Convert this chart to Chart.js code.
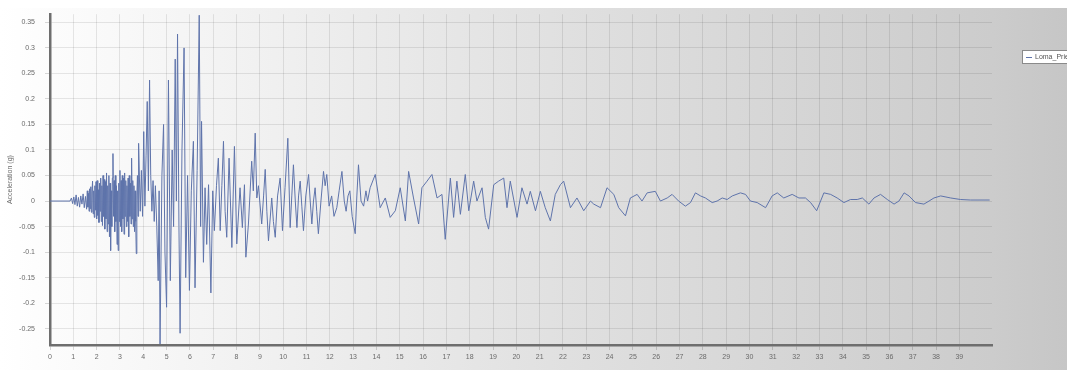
<!DOCTYPE html>
<html lang="en">
<head>
    <meta charset="UTF-8">
    <title>Loma Prieta accelerogram</title>
    <script src="https://cdn.jsdelivr.net/npm/chart.js"></script>
    <style>
        html, body { margin: 0; padding: 0; background: #ffffff; }
        canvas { display: block; }
    </style>
</head>
<body>
<canvas id="accelChart" width="1067" height="370"></canvas>

<script>
    // Record: time (s) and acceleration (g), line by line in step
    const seriesName = 'Loma_Prieta';
    const timeSec = [
        0, 0.86, 0.92, 0.97, 1.02, 1.07, 1.12, 1.17, 1.22, 1.27,
        1.32, 1.37, 1.42, 1.47, 1.52, 1.57,
        1.600, 1.625, 1.650, 1.675, 1.700, 1.725, 1.750, 1.775, 1.800, 1.825,
        1.850, 1.875, 1.900, 1.925, 1.950, 1.975, 2.000, 2.025, 2.050, 2.075,
        2.100, 2.125, 2.150, 2.175, 2.200, 2.225, 2.250, 2.275, 2.300, 2.325,
        2.350, 2.375, 2.400, 2.425, 2.450, 2.475, 2.500, 2.525, 2.550, 2.575,
        2.600, 2.625, 2.650, 2.675, 2.700, 2.725, 2.750, 2.775, 2.800, 2.825,
        2.850, 2.875, 2.900, 2.925, 2.950, 2.975, 3.000, 3.025, 3.050, 3.075,
        3.100, 3.125, 3.150, 3.175, 3.200, 3.225, 3.250, 3.275, 3.300, 3.325,
        3.350, 3.375, 3.400, 3.425, 3.450, 3.475, 3.500, 3.525, 3.550, 3.575,
        3.600, 3.625, 3.650, 3.675, 3.700, 3.725, 3.750, 3.775, 3.800,
        3.87, 3.92, 3.97, 4.02, 4.07, 4.12, 4.17, 4.22, 4.27,
        4.32, 4.37, 4.42, 4.47, 4.52, 4.58, 4.64, 4.68, 4.72, 4.80,
        4.87, 4.93, 5.00, 5.08, 5.16, 5.24, 5.30, 5.37, 5.42, 5.47,
        5.53, 5.58, 5.66, 5.75, 5.82, 5.90, 5.98, 6.06, 6.15, 6.22,
        6.31, 6.40, 6.46, 6.50,
        6.58, 6.65, 6.72, 6.80, 6.90, 6.98, 7.05, 7.14, 7.22, 7.30,
        7.37, 7.44, 7.51, 7.58, 7.68, 7.80, 7.91, 8.01, 8.15, 8.25,
        8.34, 8.40, 8.51, 8.65, 8.72, 8.80, 8.87, 8.94, 9.08, 9.16,
        9.23, 9.30, 9.37, 9.51, 9.58, 9.66, 9.76, 9.87, 9.97, 10.08,
        10.20, 10.30, 10.37, 10.44, 10.52, 10.59, 10.66, 10.73, 10.80, 10.87,
        10.97, 11.09, 11.16, 11.23, 11.30, 11.37, 11.44, 11.51, 11.62, 11.73,
        11.80, 11.87, 11.97, 12.08, 12.18, 12.30, 12.40, 12.52, 12.62, 12.70,
        12.78, 12.86, 12.96, 13.09, 13.16, 13.23, 13.34, 13.45, 13.55, 13.62,
        13.73, 13.95, 14.16, 14.38, 14.59, 14.81, 15.02, 15.24, 15.38, 15.59,
        15.81, 15.95, 16.17, 16.38, 16.60, 16.81, 16.95, 17.17, 17.31, 17.45,
        17.60, 17.81, 17.96, 18.17, 18.31, 18.53, 18.67, 18.81, 19.03, 19.24,
        19.46, 19.60, 19.74, 20.03, 20.24, 20.46, 20.60, 20.82, 21.03, 21.24,
        21.46, 21.67, 21.89, 22.03, 22.32, 22.60, 22.89, 23.18, 23.32, 23.61,
        23.89, 24.18, 24.39, 24.68, 24.89, 25.18, 25.39, 25.61, 25.96, 26.18,
        26.47, 26.68, 26.96, 27.25, 27.47, 27.68, 27.90, 28.11, 28.40, 28.61,
        28.83, 29.04, 29.26, 29.61, 29.83, 30.04, 30.33, 30.69, 30.97, 31.19,
        31.47, 31.83, 32.12, 32.40, 32.62, 32.88, 33.19, 33.48, 33.76, 34.05,
        34.33, 34.62, 34.84, 35.12, 35.34, 35.62, 35.91, 36.20, 36.41, 36.63,
        36.84, 37.12, 37.48, 37.70, 37.91, 38.20, 38.63, 39.05, 39.48, 40.30
    ];
    const accelG = [
        0, 0, 0.006, -0.005, 0.008, -0.007, 0.012, -0.010, 0.007, -0.012,
        0.010, -0.006, 0.014, -0.013, 0.009, -0.016,
        0.020, -0.012, 0.015, -0.020, 0.024, -0.015, 0.028, -0.022, 0.018, 0.039,
        -0.025, 0.020, -0.032, 0.030, -0.018, 0.038, -0.035, 0.040, -0.028, 0.022,
        -0.042, 0.035, -0.020, 0.045, -0.040, 0.030, -0.048, 0.050, -0.030, 0.042,
        -0.055, 0.038, -0.035, 0.055, -0.060, 0.030, -0.045, 0.050, -0.070, 0.035,
        -0.097, 0.020, -0.050, 0.045, 0.093, -0.030, 0.040, -0.060, 0.050, -0.040,
        0.030, -0.085, 0.020, -0.097, 0.035, -0.040, 0.060, -0.050, 0.040, -0.060,
        0.050, -0.035, 0.045, -0.065, 0.055, -0.030, 0.040, -0.050, 0.030, -0.040,
        0.045, -0.070, 0.050, -0.030, 0.035, -0.045, 0.084, -0.035, 0.040, -0.050,
        0.030, -0.060, 0.020, -0.040, -0.103, 0.010, 0.050, -0.030, 0.113,
        -0.020, 0.060, -0.030, 0.136, -0.010, 0.090, 0.195, 0.020, 0.237,
        0.050, -0.020, 0.040, -0.040, 0.030, -0.050, -0.156, 0.020, -0.280, 0.050,
        0.150, -0.100, -0.208, 0.237, -0.156, 0.100, -0.050, 0.278, 0.000, 0.327,
        -0.050, -0.259, 0.100, 0.300, -0.150, 0.050, -0.175, 0.020, 0.117, -0.170,
        0.060, 0.364, -0.050, 0.156,
        -0.120, 0.026, -0.085, 0.032, -0.180, 0.020, -0.058, 0.030, 0.084, -0.058,
        0.030, 0.117, -0.020, -0.071, 0.084, -0.091, 0.107, -0.084, 0.026, -0.052,
        0.032, -0.110, -0.045, 0.078, 0.020, 0.133, 0.006, 0.030, -0.045, 0.010,
        0.062, -0.020, -0.078, 0.006, -0.040, -0.071, 0.010, 0.045, -0.058, 0.026,
        0.123, -0.052, 0.010, 0.071, 0.000, -0.052, 0.010, 0.039, -0.010, -0.058,
        0.010, 0.052, 0.000, -0.045, 0.000, 0.026, -0.020, -0.064, 0.000, 0.058,
        0.030, 0.052, -0.010, 0.010, -0.030, -0.013, 0.020, 0.058, 0.000, -0.020,
        0.010, 0.020, -0.030, -0.064, 0.010, 0.071, 0.000, -0.010, 0.020, 0.000,
        0.026, 0.052, -0.013, 0.006, -0.032, -0.019, 0.026, -0.039, 0.058, 0.006,
        -0.045, 0.026, 0.039, 0.052, 0.006, 0.013, -0.075, 0.045, -0.032, 0.039,
        -0.026, 0.052, -0.019, 0.039, 0.000, 0.026, -0.032, -0.055, 0.032, 0.039,
        0.045, -0.013, 0.039, -0.032, 0.026, -0.006, 0.019, -0.019, 0.019, -0.013,
        -0.039, 0.013, 0.032, 0.039, -0.013, 0.006, -0.019, 0.000, -0.006, -0.013,
        0.026, 0.013, -0.013, -0.029, 0.006, 0.013, 0.000, 0.016, 0.019, 0.000,
        0.006, 0.013, 0.000, -0.010, -0.003, 0.016, 0.010, 0.006, -0.003, 0.000,
        0.006, 0.003, 0.010, 0.016, 0.013, 0.000, -0.003, -0.013, 0.010, 0.016,
        0.006, 0.013, 0.006, 0.006, -0.003, -0.019, 0.016, 0.013, 0.006, -0.003,
        0.003, 0.003, 0.006, -0.006, 0.006, 0.013, 0.003, -0.006, 0.000, 0.016,
        0.010, -0.003, -0.006, 0.000, 0.006, 0.010, 0.006, 0.003, 0.002, 0.002
    ];

    // Tick values shown on the axes
    const xTicks = [0, 1, 2, 3, 4, 5, 6, 7, 8, 9, 10, 11, 12, 13, 14, 15, 16, 17, 18, 19,
        20, 21, 22, 23, 24, 25, 26, 27, 28, 29, 30, 31, 32, 33, 34, 35, 36, 37, 38, 39];
    const yTicks = [-0.25, -0.2, -0.15, -0.1, -0.05, 0, 0.05, 0.1, 0.15, 0.2, 0.25, 0.3, 0.35];

    if (timeSec.length !== accelG.length) {
        console.error('length mismatch', timeSec.length, accelG.length);
    }
    const points = timeSec.map((t, i) => ({ x: t, y: accelG[i] }));

    // grey horizontal gradient behind everything
    const backdrop = {
        id: 'backdrop',
        beforeDraw(chart) {
            const ctx = chart.ctx;
            ctx.save();
            ctx.fillStyle = '#ffffff';
            ctx.fillRect(0, 0, chart.width, chart.height);
            const g = ctx.createLinearGradient(0, 0, chart.width, 0);
            g.addColorStop(0, '#ffffff');
            g.addColorStop(0.05, '#fcfcfc');
            g.addColorStop(0.55, '#dfdfdf');
            g.addColorStop(0.93, '#cccccc');
            g.addColorStop(1, '#c6c6c6');
            ctx.fillStyle = g;
            ctx.fillRect(0, 8, chart.width, chart.height - 8);
            ctx.restore();
        }
    };

    // small legend box at the right edge, cut by the border like the original
    const edgeLegend = {
        id: 'edgeLegend',
        afterDraw(chart) {
            const ctx = chart.ctx;
            const ds = chart.data.datasets[0];
            ctx.save();
            ctx.fillStyle = '#ffffff';
            ctx.strokeStyle = '#8a8a8a';
            ctx.lineWidth = 1;
            ctx.fillRect(1022.5, 50.5, 70, 13);
            ctx.strokeRect(1022.5, 50.5, 70, 13);
            ctx.strokeStyle = ds.borderColor;
            ctx.beginPath();
            ctx.moveTo(1026, 57.5);
            ctx.lineTo(1032, 57.5);
            ctx.stroke();
            ctx.fillStyle = '#555555';
            ctx.font = '7px "Liberation Sans", Arial, sans-serif';
            ctx.textBaseline = 'middle';
            ctx.fillText(ds.label, 1035, 57.5);
            ctx.restore();
        }
    };

    new Chart(document.getElementById('accelChart'), {
        type: 'line',
        data: {
            datasets: [{
                label: seriesName,
                data: points,
                borderColor: '#5f74ab',
                borderWidth: 1,
                pointRadius: 0,
                tension: 0,
                fill: false
            }]
        },
        options: {
            responsive: false,
            animation: false,
            layout: { padding: { top: 12, right: 75, left: 0, bottom: 0 } },
            plugins: {
                legend: { display: false },
                tooltip: { enabled: false }
            },
            scales: {
                x: {
                    type: 'linear',
                    min: 0,
                    max: 40.4,
                    afterBuildTicks: axis => { axis.ticks = xTicks.map(v => ({ value: v })); },
                    afterFit: axis => { axis.height = 25; },
                    border: { color: '#6e6e6e', width: 2.5 },
                    grid: { color: 'rgba(0,0,0,0.09)', tickLength: 5, tickColor: 'rgba(0,0,0,0.15)' },
                    ticks: {
                        color: '#6a6a6a',
                        padding: 3,
                        maxRotation: 0,
                        autoSkip: false,
                        font: { family: '"Liberation Sans", Arial, sans-serif', size: 7 },
                        callback: v => String(v)
                    }
                },
                y: {
                    min: -0.282,
                    max: 0.366,
                    afterBuildTicks: axis => { axis.ticks = yTicks.map(v => ({ value: v })); },
                    afterFit: axis => { axis.width = 50; },
                    border: { color: '#6e6e6e', width: 2.5 },
                    grid: { color: 'rgba(0,0,0,0.09)', tickLength: 5, tickColor: 'rgba(0,0,0,0.15)' },
                    title: {
                        display: true,
                        text: 'Acceleration (g)',
                        color: '#6a6a6a',
                        padding: { top: 6, bottom: 0 },
                        font: { family: '"Liberation Sans", Arial, sans-serif', size: 7 }
                    },
                    ticks: {
                        color: '#6a6a6a',
                        padding: 10,
                        autoSkip: false,
                        font: { family: '"Liberation Sans", Arial, sans-serif', size: 7 },
                        callback: v => String(parseFloat(v.toFixed(2)))
                    }
                }
            }
        },
        plugins: [backdrop, edgeLegend]
    });
</script>
</body>
</html>
